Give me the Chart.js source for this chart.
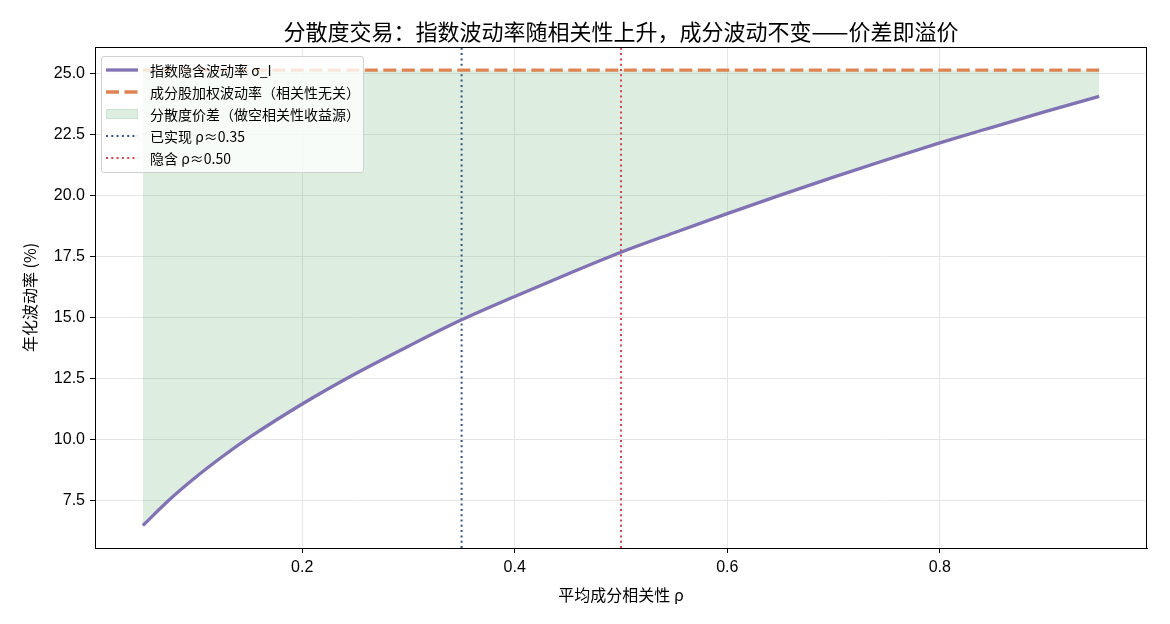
<!DOCTYPE html>
<html lang="zh">
<head>
<meta charset="UTF-8" />
<title>分散度交易</title>
<script src="https://cdn.jsdelivr.net/npm/chart.js"></script>
<style>
    html, body {
        margin: 0;
        padding: 0;
        background: #fff;
    }
    .wrap {
        position: relative;
        width: 1170px;
        height: 624px;
    }
    .legend {
        position: absolute;
        left: 101px;
        top: 56px;
        width: 261px;
        height: 115px;
        border: 1px solid #d0d0d0;
        border-radius: 3px;
        background: rgba(255, 255, 255, 0.8);
        font-family: 'Noto Sans CJK SC', 'Liberation Sans', sans-serif;
        font-size: 14px;
        color: #000;
    }
    .legend .row {
        position: absolute;
        left: 3px;
        height: 22px;
        display: flex;
        align-items: center;
    }
    .legend svg {
        width: 34px;
        height: 16px;
        margin-right: 11px;
    }
</style>
</head>
<body>
<div class="wrap">
    <canvas id="chart" width="1170" height="624"></canvas>
    <div class="legend" id="legend"></div>
</div>
<script>
// data
const rho = [0.05, 0.075, 0.10, 0.125, 0.15, 0.20, 0.25, 0.30, 0.35, 0.40, 0.45, 0.50,
             0.55, 0.60, 0.65, 0.70, 0.75, 0.80, 0.85, 0.90, 0.95];
const indexVol = [6.49, 7.55, 8.48, 9.32, 10.09, 11.47, 12.71, 13.84, 14.92, 15.88, 16.80, 17.69,
                  18.49, 19.27, 20.03, 20.77, 21.48, 22.17, 22.82, 23.46, 24.08];
const constituentVol = 25.15;
const realizedRho = 0.35;
const impliedRho = 0.50;
const xTicks = [0.2, 0.4, 0.6, 0.8];
const yTicks = [7.5, 10.0, 12.5, 15.0, 17.5, 20.0, 22.5, 25.0];
const xMin = 0.005, xMax = 0.995;
const yMin = 5.57, yMax = 26.1;

const titleText = '分散度交易：指数波动率随相关性上升，成分波动不变——价差即溢价';
const labels = [
    '指数隐含波动率 σ_I',
    '成分股加权波动率（相关性无关）',
    '分散度价差（做空相关性收益源）',
    '已实现 ρ≈0.35',
    '隐含 ρ≈0.50'
];

const purple = '#8172b3';
const orange = '#dd8452';
const fillGreen = 'rgba(85, 168, 104, 0.2)';
const blue = '#34558b';
const red = '#d0464a';

const fontMain = "'Liberation Sans', 'Noto Sans CJK SC', sans-serif";
const fontCjk = "'Noto Sans CJK SC', sans-serif";

// black box round the plot + title centred over the plot area
const frame = {
    id: 'frame',
    afterDraw(chart) {
        const a = chart.chartArea;
        const ctx = chart.ctx;
        ctx.save();
        ctx.strokeStyle = '#000';
        ctx.lineWidth = 1;
        ctx.strokeRect(a.left + 0.5, a.top + 0.5, a.right - a.left - 1, a.bottom - a.top);
        ctx.fillStyle = '#000';
        ctx.font = '22px ' + fontCjk;
        ctx.textAlign = 'center';
        ctx.textBaseline = 'middle';
        ctx.fillText(titleText, (a.left + a.right) / 2, 32);
        ctx.restore();
    }
};

const ctx = document.getElementById('chart').getContext('2d');
new Chart(ctx, {
    type: 'line',
    data: {
        datasets: [
            {
                label: labels[0],
                data: rho.map((r, i) => ({ x: r, y: indexVol[i] })),
                borderColor: purple,
                borderWidth: 3.3,
                pointRadius: 0,
                cubicInterpolationMode: 'monotone',
                fill: false
            },
            {
                label: labels[1],
                data: rho.map(r => ({ x: r, y: constituentVol })),
                borderColor: orange,
                borderWidth: 3.3,
                borderDash: [13, 5.5],
                pointRadius: 0,
                fill: false
            },
            {
                label: labels[2],
                data: rho.map(r => ({ x: r, y: constituentVol })),
                borderWidth: 0,
                borderColor: 'rgba(0,0,0,0)',
                backgroundColor: fillGreen,
                pointRadius: 0,
                fill: 0
            },
            {
                label: labels[3],
                data: [{ x: realizedRho, y: yMin }, { x: realizedRho, y: yMax }],
                borderColor: blue,
                borderWidth: 2,
                borderDash: [2, 3.3],
                pointRadius: 0,
                fill: false
            },
            {
                label: labels[4],
                data: [{ x: impliedRho, y: yMin }, { x: impliedRho, y: yMax }],
                borderColor: red,
                borderWidth: 2,
                borderDash: [2, 3.3],
                pointRadius: 0,
                fill: false
            }
        ]
    },
    options: {
        responsive: false,
        animation: false,
        devicePixelRatio: 1,
        layout: { padding: { left: 0, right: 23, top: 47, bottom: 0 } },
        plugins: {
            legend: { display: false },
            tooltip: { enabled: false },
            filler: { drawTime: 'beforeDatasetsDraw' },
            title: { display: false }
        },
        scales: {
            x: {
                type: 'linear',
                min: xMin,
                max: xMax,
                afterBuildTicks: axis => { axis.ticks = xTicks.map(v => ({ value: v })); },
                afterFit: s => { s.height = 76; },
                ticks: {
                    color: '#000',
                    font: { family: fontMain, size: 16 },
                    padding: 5,
                    maxRotation: 0,
                    callback: v => v.toFixed(1)
                },
                grid: { color: '#e6e6e6', tickColor: '#000', tickLength: 5 },
                border: { color: '#000', width: 1 },
                title: {
                    display: true,
                    text: '平均成分相关性 ρ',
                    color: '#000',
                    font: { family: fontCjk, size: 16 },
                    padding: { top: 4, bottom: 19 }
                }
            },
            y: {
                type: 'linear',
                min: yMin,
                max: yMax,
                afterBuildTicks: axis => { axis.ticks = yTicks.map(v => ({ value: v })); },
                afterFit: s => { s.width = 95; },
                ticks: {
                    color: '#000',
                    font: { family: fontMain, size: 16 },
                    padding: 5,
                    callback: v => v.toFixed(1)
                },
                grid: { color: '#e6e6e6', tickColor: '#000', tickLength: 5 },
                border: { color: '#000', width: 1 },
                title: {
                    display: true,
                    text: '年化波动率 (%)',
                    color: '#000',
                    font: { family: fontCjk, size: 16 },
                    padding: { top: 20, bottom: 0 }
                }
            }
        }
    },
    plugins: [frame]
});

// legend box like the reference, upper left inside the plot
const samples = [
    '<line x1="1" y1="8" x2="33" y2="8" stroke="' + purple + '" stroke-width="3.3"/>',
    '<line x1="1" y1="8" x2="33" y2="8" stroke="' + orange + '" stroke-width="3.3" stroke-dasharray="13 5.5"/>',
    '<rect x="1.5" y="3.5" width="31" height="9" fill="' + fillGreen + '" stroke="rgba(85,168,104,0.25)"/>',
    '<line x1="1" y1="8" x2="33" y2="8" stroke="' + blue + '" stroke-width="2" stroke-dasharray="2 3.3"/>',
    '<line x1="1" y1="8" x2="33" y2="8" stroke="' + red + '" stroke-width="2" stroke-dasharray="2 3.3"/>'
];
const legendEl = document.getElementById('legend');
labels.forEach((txt, i) => {
    const row = document.createElement('div');
    row.className = 'row';
    row.style.top = (2 + i * 22) + 'px';
    row.innerHTML = '<svg viewBox="0 0 34 16">' + samples[i] + '</svg><span></span>';
    row.querySelector('span').textContent = txt;
    legendEl.appendChild(row);
});
</script>
</body>
</html>
